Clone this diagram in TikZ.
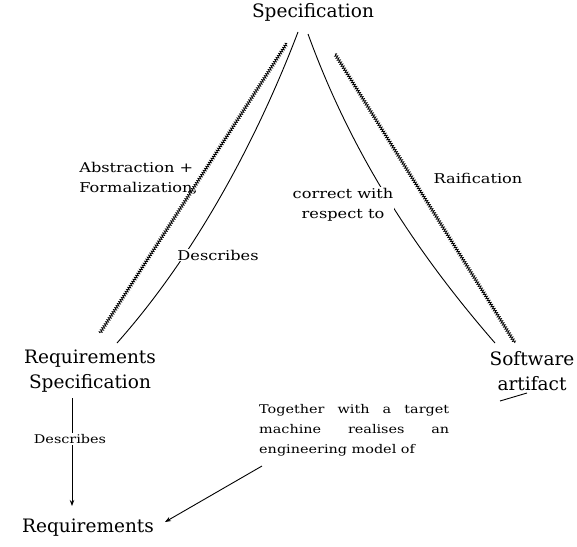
\documentclass[tikz,border=0pt]{standalone}
\usepackage{fontspec}
\setmainfont{DejaVu Serif}
\newfontfamily\widefont[FakeStretch=1.2]{DejaVu Serif}
\usetikzlibrary{decorations.pathmorphing,arrows.meta}
\begin{document}
\begin{tikzpicture}[x=1pt,y=-1pt,
  big/.style={font=\fontsize{18.5}{25}\selectfont, align=center, inner sep=1pt},
  lab/.style={font=\widefont\fontsize{13.5}{20}\selectfont, align=center, inner sep=1pt},
  masked/.style={lab, fill=white},
  plain/.style={line width=0.9pt},
  rough/.style={line width=0.75pt, decorate, decoration={zigzag, amplitude=1.4pt, segment length=2.4pt}},
  tip/.style={-{Stealth[length=6pt,width=4.5pt]}}
]
\useasboundingbox (0,0) rectangle (577,546);
% main nodes
\node[big] (spec) at (313,12) {Specification};
\node[big] (rs) at (90,371) {Requirements\\Specification};
\node[big] (sw) at (532,371) {Software\\artifact};
\node[big] (req) at (88,528) {Requirements};
% connector end points
\coordinate (absB) at (100,333);
\coordinate (absT) at (287,43);
\coordinate (desB) at (117,343);
\coordinate (desT) at (298,32);
\coordinate (corT) at (308,34);
\coordinate (corB) at (495,343);
\coordinate (raiT) at (335,54);
\coordinate (raiB) at (515,343);
\coordinate (vdT) at (72,398);
\coordinate (vdB) at (72,506);
\coordinate (togA) at (262,466);
\coordinate (reqA) at (165,522);
\coordinate (togB) at (500,401);
\coordinate (swA) at (527,393);
% connectors
\draw[rough] (absB) -- (absT);
\draw[rough] (raiT) -- (raiB);
\draw[plain] (desB) .. controls (197,253) and (258,137) .. (desT);
\draw[plain] (corT) .. controls (348,144) and (408,243) .. (corB);
\draw[plain, tip] (vdT) -- (vdB);
\draw[plain, tip] (togA) -- (reqA);
\draw[plain] (togB) -- (swA);
% labels
\node[lab, anchor=east, align=left] (labAbs) at (199,178) {Abstraction +\\Formalization,};
\node[masked] (labDes) at (218,255) {Describes};
\node[masked] (labCor) at (343,205) {correct with\\respect to};
\node[lab] (labRai) at (478,178) {Raification};
\node[masked, font=\widefont\fontsize{12}{16}\selectfont] (labDes2) at (70,439) {Describes};
\node[lab, font=\widefont\fontsize{12}{20}\selectfont, anchor=north west, align=left] (tog) at (258,403) {\parbox{190pt}{Together with a target\linebreak machine realises an\linebreak engineering model of}};
\end{tikzpicture}
\end{document}
